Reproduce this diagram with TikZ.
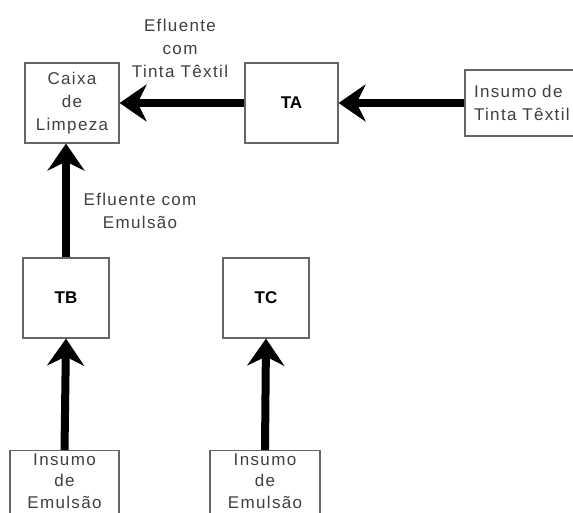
\documentclass[tikz,border=0pt]{standalone}
\usepackage{fontspec}
\setmainfont{Liberation Sans}
\usetikzlibrary{arrows.meta, positioning}
\newcommand{\spaced}{\addfontfeatures{LetterSpace=8}}
\tikzstyle{box} = [rectangle, draw=black!60, line width=1.2pt, align=center, text=black!75, font=\fontsize{17}{23}\selectfont\spaced]
\tikzstyle{tank} = [box, minimum width=88pt, minimum height=80pt, text=black, font=\fontsize{17}{23}\selectfont\bfseries]
\tikzstyle{label} = [align=center, text=black!75, font=\fontsize{17}{23}\selectfont\spaced]
\tikzstyle{arrow} = [line width=8pt, -{Stealth[length=27pt, width=37pt, inset=9pt]}]

\begin{document}
\begin{tikzpicture}[x=1pt, y=-1pt]
        \clip (0,0) rectangle (573,513);
        \fill[white] (0,0) rectangle (573,513);
        \node[box, minimum width=94pt, minimum height=80pt] (caixa) at (72,103) {Caixa\\de\\Limpeza};
        \node[tank, minimum width=93pt] (ta) at (291.5,103) {TA};
        \node[box, minimum width=122pt, minimum height=66pt, text width=104pt, align=left] (insumoA) at (526,103) {Insumo de\\Tinta Têxtil};
        \node[tank, minimum width=86pt] (tb) at (66,298) {TB};
        \node[tank, minimum width=86pt] (tc) at (266,298) {TC};
        % entrada de emulsao (cortada na borda de baixo)
        \node[box, minimum width=109pt, minimum height=80pt, anchor=north] (insumoB) at (64.5,450) {};
        \node[label, font=\fontsize{17}{21.5}\selectfont\spaced] (txtB) at (64.5,481) {Insumo\\de\\Emulsão};
        \node[box, minimum width=110pt, minimum height=80pt, anchor=north] (insumoC) at (265,450) {};
        \node[label, font=\fontsize{17}{21.5}\selectfont\spaced] (txtC) at (265,481) {Insumo\\de\\Emulsão};
        \node[label] (lblA) at (180,48) {Efluente\\com\\Tinta Têxtil};
        \node[label] (lblB) at (140,211) {Efluente com\\Emulsão};
        \draw[arrow] (ta.west) -- (caixa.east);
        \draw[arrow] (insumoA.west) -- (ta.east);
        \draw[arrow] (tb.north) -- (tb.north |- caixa.south);
        \draw[arrow] (insumoB.north) -- (tb.south);
        \draw[arrow] (insumoC.north) -- (tc.south);
    \end{tikzpicture}
\end{document}
